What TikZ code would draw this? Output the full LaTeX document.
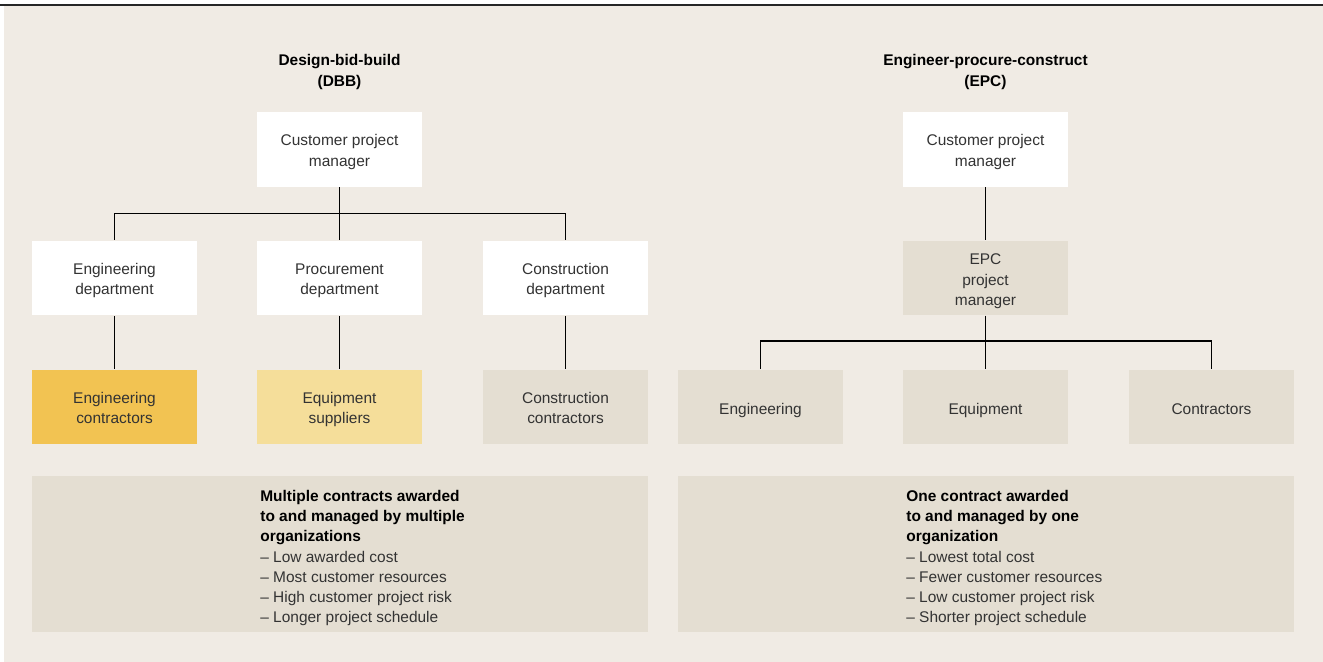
\documentclass[tikz,border=0pt]{standalone}
\usepackage{fontspec}
\setmainfont{Liberation Sans}
\usepackage{tikz}
\usetikzlibrary{positioning,calc}
\definecolor{bgbeige}{HTML}{F0EBE4}
\definecolor{boxgrey}{HTML}{E4DED2}
\definecolor{darkgold}{HTML}{F2C352}
\definecolor{lightgold}{HTML}{F5DE9A}
\definecolor{txtgrey}{HTML}{333333}
\tikzset{
  orgbox/.style={fill=white, minimum width=3.3cm, minimum height=1.5cm, inner sep=0pt,
    align=center, text=txtgrey, font=\fontsize{8.8}{11.6}\selectfont,
    execute at begin node={\rule{0pt}{#1}}, execute at end node=\strut},
  orgbox/.default=22.3pt,
  greybox/.style={orgbox=#1, fill=boxgrey},
  greybox/.default=22.3pt,
  sumbox/.style={fill=boxgrey, minimum width=12.32cm, minimum height=3.12cm, inner sep=0pt},
  sumtext/.style={align=left, inner sep=0pt, text=txtgrey, font=\fontsize{8.8}{11.5}\selectfont},
  headline/.style={align=center, inner sep=0pt, text=black, font=\fontsize{8.8}{11.5}\selectfont\bfseries},
  link/.style={line width=0.8pt, black}
}
\begin{document}
\begin{tikzpicture}[x=0.02cm, y=-0.02cm]
    \useasboundingbox (0,0) rectangle (1323,662);
    \fill[bgbeige] (4,6) rectangle (1323,662);
    \draw[line width=1.2pt, black!85] (0,5) -- (1323,5);

    % design-bid-build
    \node[headline] (dbbhead) at (339.5,72) {Design-bid-build\\(DBB)};
    \node[orgbox] (dbbcpm) at (339.5,149.5) {Customer project\\manager};
    \node[orgbox] (engdep) at (114.5,278) {Engineering\\department};
    \node[orgbox] (procdep) at (339.5,278) {Procurement\\department};
    \node[orgbox] (consdep) at (565.5,278) {Construction\\department};
    \node[orgbox, fill=darkgold] (engcon) at (114.5,407) {Engineering\\contractors};
    \node[orgbox, fill=lightgold] (equsup) at (339.5,407) {Equipment\\suppliers};
    \node[greybox] (concon) at (565.5,407) {Construction\\contractors};
    \node[sumbox] (dbbsum) at (340,554) {};
    \node[sumtext, anchor=north west] (dbbtxt) at (260,490)
      {\textbf{\color{black}Multiple contracts awarded}\\
       \textbf{\color{black}to and managed by multiple}\\
       \textbf{\color{black}organizations}\\
       -- Low awarded cost\\
       -- Most customer resources\\
       -- High customer project risk\\
       -- Longer project schedule};

    \draw[link] (dbbcpm.south) -- ++(0,26) -| (engdep.north);
    \draw[link] (dbbcpm.south) -- ++(0,26) -| (consdep.north);
    \draw[link] (dbbcpm) -- (procdep);
    \draw[link] (engdep) -- (engcon);
    \draw[link] (procdep) -- (equsup);
    \draw[link] (consdep) -- (concon);

    % engineer-procure-construct
    \node[headline] (epchead) at (985.5,72) {Engineer-procure-construct\\(EPC)};
    \node[orgbox] (epccpm) at (985.5,149.5) {Customer project\\manager};
    \node[greybox=34.7pt] (epcpm) at (985.5,278) {EPC\\project\\manager};
    \node[greybox=11.6pt] (eng) at (760.5,407) {Engineering};
    \node[greybox=11.6pt] (equ) at (985.5,407) {Equipment};
    \node[greybox=11.6pt] (con) at (1211.5,407) {Contractors};
    \node[sumbox] (epcsum) at (986,554) {};
    \node[sumtext, anchor=north west] (epctxt) at (906,490)
      {\textbf{\color{black}One contract awarded}\\
       \textbf{\color{black}to and managed by one}\\
       \textbf{\color{black}organization}\\
       -- Lowest total cost\\
       -- Fewer customer resources\\
       -- Low customer project risk\\
       -- Shorter project schedule};

    \draw[link] (epccpm) -- (epcpm);
    \draw[link] (epcpm.south) -- ++(0,25) -| (eng.north);
    \draw[link] (epcpm.south) -- ++(0,25) -| (con.north);
    \draw[link] (epcpm) -- (equ);
\end{tikzpicture}
\end{document}
